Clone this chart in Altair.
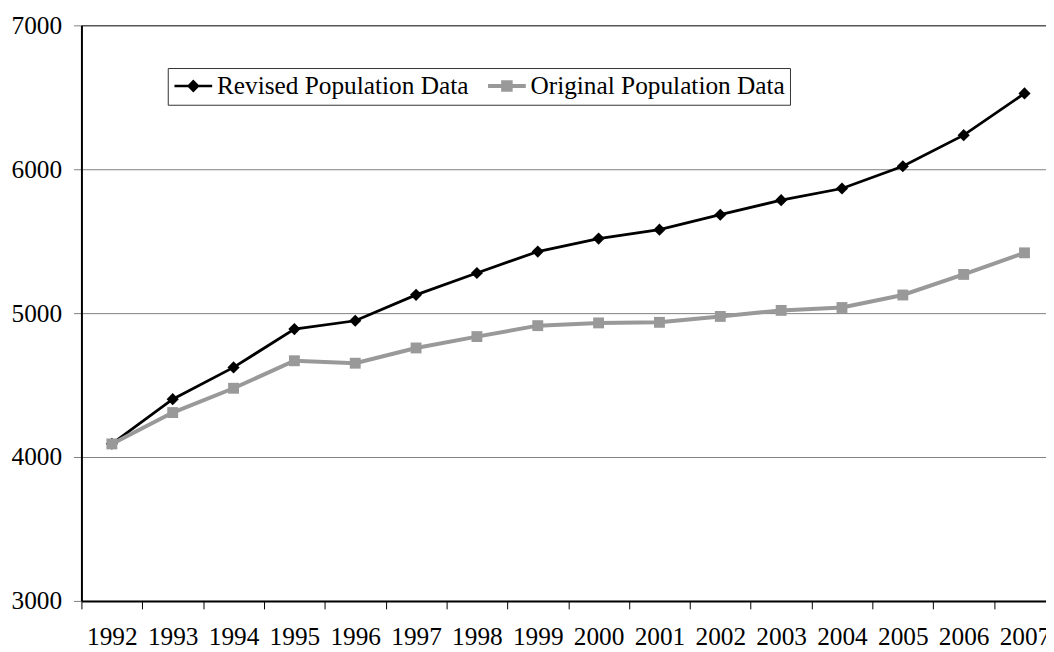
import altair as alt
import pandas as pd

years = [str(y) for y in range(1992, 2008)]
revised = [4092, 4402, 4623, 4889, 4947, 5127, 5279, 5428, 5518, 5580, 5684, 5785, 5866, 6021, 6237, 6527]
original = [4091, 4309, 4478, 4669, 4652, 4758, 4837, 4913, 4932, 4936, 4977, 5019, 5039, 5126, 5269, 5419]
series_names = ["Revised Population Data", "Original Population Data"]
y_ticks = [3000, 4000, 5000, 6000, 7000]

FONT = "Liberation Serif, Times New Roman, Times, serif"
GRAY = "#999999"
GRID = "#808080"

df = pd.DataFrame({
    "year": years * 2,
    "value": revised + original,
    "series": [series_names[0]] * len(years) + [series_names[1]] * len(years),
})

x_enc = alt.X(
    "year:O",
    scale=alt.Scale(type="band", domain=years, range=[0, 981], paddingInner=0, paddingOuter=0),
    axis=alt.Axis(
        title=None, labelAngle=0, tickBand="extent", grid=False,
        labelFont=FONT, labelFontSize=25.5, labelColor="black",
        tickColor="black", tickSize=8, tickWidth=1, labelPadding=16,
        domainColor="black", domainWidth=2,
    ),
)
y_enc = alt.Y(
    "value:Q",
    scale=alt.Scale(domain=[3000, 7000], nice=False, zero=False),
    axis=alt.Axis(
        title=None, values=y_ticks, format="d", grid=True,
        gridColor=alt.condition(alt.datum.value == 7000, alt.value("black"), alt.value(GRID)),
        gridWidth=1,
        labelFont=FONT, labelFontSize=25.5, labelColor="black",
        tickColor=GRID, tickSize=8, tickWidth=1, labelPadding=12,
        domainColor="black", domainWidth=2,
    ),
)

base = alt.Chart(df).encode(x=x_enc, y=y_enc)

rev = base.transform_filter(alt.datum.series == series_names[0])
orig = base.transform_filter(alt.datum.series == series_names[1])

rev_line = rev.mark_line(color="black", strokeWidth=2.8)
rev_pts = rev.mark_point(shape="diamond", filled=True, color="black", size=150, opacity=1)
orig_line = orig.mark_line(color=GRAY, strokeWidth=4)
orig_pts = orig.mark_point(shape="square", filled=True, color=GRAY, size=120, opacity=1)

path_rev = "M-1.9,0L1.9,0M0,-0.46L0.46,0L0,0.46L-0.46,0Z"
path_orig = "M-1.9,0L1.9,0M-0.38,-0.38L0.38,-0.38L0.38,0.38L-0.38,0.38Z"

leg = alt.Legend(
    title=None, orient="none", legendX=87, legendY=43, direction="horizontal",
    labelFont=FONT, labelFontSize=25.5, labelColor="black", labelOffset=11,
    symbolOffset=8, columnPadding=10, padding=5, strokeColor="#333333", fillColor="white",
    symbolSize=400, symbolOpacity=1, labelLimit=400,
)

legend_layer = alt.Chart(df).transform_filter("false").mark_point(filled=True, opacity=1).encode(
    fill=alt.Fill("series:N", scale=alt.Scale(domain=series_names, range=["black", GRAY]), legend=leg),
    stroke=alt.Stroke("series:N", scale=alt.Scale(domain=series_names, range=["black", GRAY]), legend=leg),
    shape=alt.Shape("series:N", scale=alt.Scale(domain=series_names, range=[path_rev, path_orig]), legend=leg),
    strokeWidth=alt.StrokeWidth("series:N", scale=alt.Scale(domain=series_names, range=[2.6, 4]), legend=leg),
)

chart = alt.layer(rev_line, rev_pts, orig_line, orig_pts, legend_layer).properties(
    width=972, height=580,
    padding={"left": 74, "top": 15, "right": 0, "bottom": 50},
    autosize=alt.AutoSizeParams(type="none"),
    background="white",
).configure_view(stroke=None)

chart.save("out.html", embed_options={"renderer": "svg", "actions": False})
